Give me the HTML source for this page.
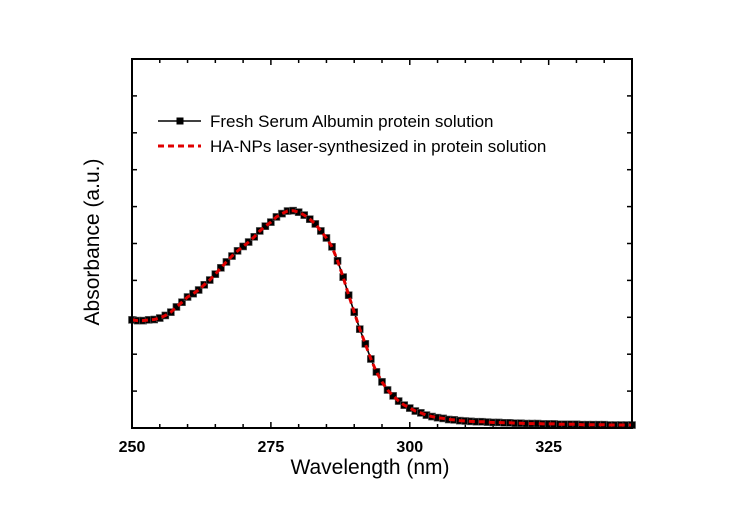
<!DOCTYPE html>
<html><head><meta charset="utf-8"><style>
html,body{margin:0;padding:0;background:#fff;}
svg{display:block;font-family:"Liberation Sans",Arial,sans-serif;}
</style></head><body>
<svg id="chart" width="737" height="516" viewBox="0 0 737 516">
<rect x="0" y="0" width="737" height="516" fill="#fff"/>
<g id="grid-ticks"></g>
<g id="series"></g>
<rect x="132" y="59" width="500" height="369" fill="none" stroke="#000" stroke-width="2"/>
<g id="xlabels"></g>
<text x="370" y="474" font-size="21" text-anchor="middle">Wavelength (nm)</text>
<text transform="translate(99,242) rotate(-90)" font-size="21" text-anchor="middle">Absorbance (a.u.)</text>
<g>
  <g>
    <line x1="158" y1="121" x2="201" y2="121" stroke="#000" stroke-width="1.6"/>
    <rect x="176.5" y="117.5" width="7" height="7" fill="#000"/>
    <text x="210" y="127" font-size="17">Fresh Serum Albumin protein solution</text>
  </g>
  <g>
    <line x1="158" y1="146" x2="201" y2="146" stroke="#e00000" stroke-width="3" stroke-dasharray="6,4"/>
    <text x="210" y="152" font-size="17">HA-NPs laser-synthesized in protein solution</text>
  </g>
</g>
</svg>
<script>
const wavelengthStart = 250;
const freshSerum = [2.93,2.91,2.91,2.93,2.94,2.98,3.05,3.14,3.28,3.41,3.55,3.64,3.74,3.88,4.01,4.17,4.34,4.50,4.66,4.80,4.92,5.04,5.18,5.34,5.47,5.58,5.72,5.81,5.88,5.89,5.85,5.77,5.66,5.53,5.34,5.15,4.91,4.53,4.09,3.60,3.14,2.68,2.28,1.87,1.52,1.25,1.03,0.87,0.73,0.62,0.54,0.46,0.41,0.35,0.31,0.28,0.26,0.23,0.22,0.20,0.19,0.18,0.17,0.17,0.16,0.15,0.15,0.14,0.14,0.13,0.13,0.12,0.12,0.12,0.11,0.11,0.11,0.10,0.10,0.10,0.10,0.09,0.09,0.09,0.09,0.09,0.08,0.08,0.08,0.08,0.08];
const haNPs = [2.93,2.91,2.91,2.93,2.94,2.98,3.05,3.14,3.28,3.41,3.55,3.64,3.74,3.88,4.01,4.17,4.34,4.50,4.66,4.80,4.92,5.04,5.18,5.34,5.47,5.58,5.72,5.81,5.88,5.89,5.85,5.77,5.66,5.53,5.34,5.15,4.91,4.53,4.09,3.60,3.14,2.68,2.28,1.87,1.52,1.25,1.03,0.87,0.73,0.62,0.54,0.46,0.41,0.35,0.31,0.28,0.26,0.23,0.22,0.20,0.19,0.18,0.17,0.17,0.16,0.15,0.15,0.14,0.14,0.13,0.13,0.12,0.12,0.12,0.11,0.11,0.11,0.10,0.10,0.10,0.10,0.09,0.09,0.09,0.09,0.09,0.08,0.08,0.08,0.08,0.08];
const xTickLabels = [250,275,300,325];
const xMin = 250, xMax = 340, yMin = 0, yMax = 10;
const L=132,R=632,T=59,B=428;
const NS="http://www.w3.org/2000/svg";
function sx(v){return L+(v-xMin)/(xMax-xMin)*(R-L);}
function sy(v){return B-(v-yMin)/(yMax-yMin)*(B-T);}
function mk(tag,attrs,parent){const e=document.createElementNS(NS,tag);for(const k in attrs)e.setAttribute(k,attrs[k]);parent.appendChild(e);return e;}
const ticks=document.getElementById('grid-ticks');
for(let w=xMin; w<=xMax; w+=5){
  const major=(w-xMin)%25===0, len=major?6:4;
  const t1=mk('line',{x1:sx(w),x2:sx(w),y1:B,y2:B-len,stroke:'#000','stroke-width':1.5},ticks);
  
  
  const t2=mk('line',{x1:sx(w),x2:sx(w),y1:T,y2:T+len,stroke:'#000','stroke-width':1.5},ticks);
  
  
}
for(let v=yMin+1; v<yMax; v+=1){
  const t1=mk('line',{x1:L,x2:L+5,y1:sy(v),y2:sy(v),stroke:'#000','stroke-width':1.5},ticks);
  
  
  const t2=mk('line',{x1:R,x2:R-5,y1:sy(v),y2:sy(v),stroke:'#000','stroke-width':1.5},ticks);
  
  
}
const xl=document.getElementById('xlabels');
xTickLabels.forEach(v=>{
  const t=mk('text',{x:sx(v),y:452,'font-size':16,'font-weight':'bold','text-anchor':'middle'},xl);
  t.textContent=v;
  
  
});
const s=document.getElementById('series');
const p1=freshSerum.map((v,i)=>sx(wavelengthStart+i).toFixed(1)+','+sy(v).toFixed(1)).join(' ');
const line1=mk('polyline',{points:p1,fill:'none',stroke:'#000','stroke-width':1.6},s);


freshSerum.forEach((v,i)=>{
  const r=mk('rect',{x:sx(wavelengthStart+i)-3.5,y:sy(v)-3.5,width:7,height:7,fill:'#000',stroke:'#555','stroke-width':0.6},s);
  
  
});
const p2=haNPs.map((v,i)=>sx(wavelengthStart+i).toFixed(1)+','+sy(v).toFixed(1)).join(' ');
const line2=mk('polyline',{points:p2,fill:'none',stroke:'#e00000','stroke-width':3,'stroke-dasharray':'6,4'},s);


</script>
</body></html>
